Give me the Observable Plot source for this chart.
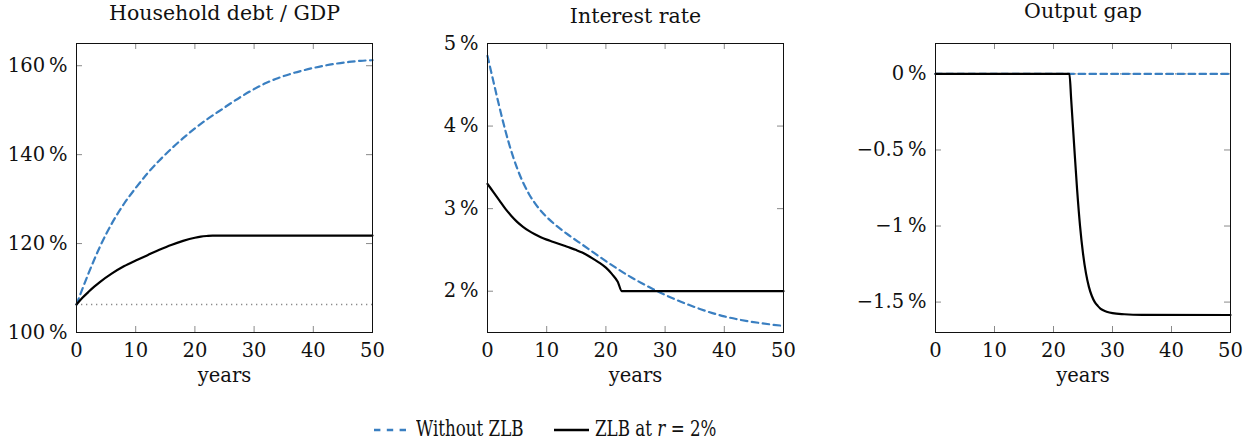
<!DOCTYPE html>
<html><head><meta charset="utf-8">
<script src="https://cdn.jsdelivr.net/npm/d3@7"></script>
<script src="https://cdn.jsdelivr.net/npm/@observablehq/plot@0.6"></script>
<style>
body{margin:0;background:#fff;}
#wrap{position:relative;width:1256px;height:444px;overflow:hidden;font-family:"DejaVu Serif",serif;color:#111;}
.panel{position:absolute;top:0;}
.lg{position:absolute;font-size:22px;line-height:22px;white-space:nowrap;transform-origin:0 50%;transform:scaleX(0.76);}
</style></head><body><div id="wrap"></div>
<script>
// ---- data ----
const xTicks = [0, 10, 20, 30, 40, 50];

const debtYearsNoZLB = [0,2,4,6,8,10,12,14,16,18,20,22,24,26,28,30,32,34,36,38,40,42,44,46,48,50];
const debtNoZLB = [106.3,113.2,119.4,124.6,128.9,132.5,135.8,138.7,141.3,143.7,145.9,147.9,149.7,151.5,153.2,154.75,156.1,157.2,158.1,158.85,159.5,160.05,160.5,160.85,161.1,161.25];
const debtYearsZLB = [0,1,2,3,4,6,8,10,12,14,16,18,20,21,22,23,24,26,30,40,50];
const debtZLB = [106.3,107.8,109.1,110.3,111.4,113.3,114.9,116.2,117.4,118.6,119.7,120.6,121.3,121.55,121.7,121.8,121.8,121.8,121.8,121.8,121.8];
const debtInitial = 106.3;
const debtTicks = [100, 120, 140, 160];

const rateYearsNoZLB = [0,1,2,3,4,5,6,7,8,9,10,12,14,16,18,20,22,24,26,28,30,32,34,36,38,40,42,44,46,48,50];
const rateNoZLB = [4.85,4.54,4.235,3.95,3.70,3.49,3.318,3.178,3.066,2.975,2.899,2.772,2.665,2.565,2.465,2.365,2.27,2.18,2.10,2.025,1.955,1.892,1.835,1.782,1.735,1.695,1.663,1.637,1.615,1.596,1.58];
const rateYearsZLB = [0,1,2,3,4,5,6,7,8,9,10,11,12,13,14,15,16,17,18,19,20,21,22,22.7,30,40,50];
const rateZLB = [3.30,3.20,3.10,3.00,2.915,2.84,2.78,2.73,2.69,2.655,2.625,2.60,2.575,2.55,2.525,2.498,2.468,2.43,2.385,2.34,2.285,2.21,2.115,2.0,2.0,2.0,2.0];
const rateTicks = [2, 3, 4, 5];

const gapYearsNoZLB = [0, 50];
const gapNoZLB = [0, 0];
const gapYearsZLB = [0,10,20,22.7,23.0,23.5,24.0,24.5,25.0,25.5,26.0,26.5,27.0,27.5,28,29,30,32,35,50];
const gapZLB = [0,0,0,0,-0.17,-0.47,-0.76,-1.0,-1.18,-1.31,-1.40,-1.46,-1.50,-1.525,-1.545,-1.563,-1.573,-1.58,-1.584,-1.585];
const gapInitial = 0;
const gapTicks = [-1.5, -1, -0.5, 0];

const titles = ["Household debt / GDP", "Interest rate", "Output gap"];
const xLabel = "years";
const seriesNames = ["Without ZLB", "ZLB at"];

// ---- drawing ----
const BLUE = "#3a7fc1";
const zip = (xs, ys) => xs.map((x, i) => ({year: x, value: ys[i]}));
const fmt = d => (d < 0 ? "\u2212" : "") + Math.abs(d) + "\u2009%";

function panel({left, width, ml, mr, yDomain, yTicks, title, titleDy, ref, blue, black}) {
  const H = 400, mt = 43, mb = 68;
  const innerH = H - mt - mb, innerW = width - ml - mr, T = 6;
  const tickStyle = {stroke: "#8a8a8a", strokeWidth: 1};
  const marks = [
    Plot.tickX(xTicks, {x: d => d, insetTop: innerH - T, ...tickStyle}),
    Plot.tickX(xTicks, {x: d => d, insetBottom: innerH - T, ...tickStyle}),
    Plot.tickY(yTicks, {y: d => d, insetRight: innerW - T, ...tickStyle}),
    Plot.tickY(yTicks, {y: d => d, insetLeft: innerW - T, ...tickStyle}),
  ];
  if (ref != null) marks.push(Plot.ruleY([ref], {stroke: "#8a8a8a", strokeWidth: 1.3, strokeDasharray: "1.3,3.7"}));
  marks.push(
    Plot.line(blue, {x: "year", y: "value", stroke: BLUE, strokeWidth: 2.2, strokeDasharray: "6.5,4.5", curve: "monotone-x"}),
    Plot.line(black, {x: "year", y: "value", stroke: "#000", strokeWidth: 2.2, curve: "monotone-x"}),
    Plot.frame({stroke: "#111", strokeWidth: 1}),
    Plot.axisX({ticks: xTicks, tickSize: 0, tickPadding: 11, label: null}),
    Plot.axisY({ticks: yTicks, tickSize: 0, tickPadding: 9, tickFormat: fmt, label: null}),
    Plot.text([title], {frameAnchor: "top", dy: titleDy, lineAnchor: "bottom", fontSize: 20.5}),
    Plot.text([xLabel], {frameAnchor: "bottom", dy: 43, lineAnchor: "middle"})
  );
  const svg = Plot.plot({
    width, height: H,
    marginLeft: ml, marginRight: mr, marginTop: mt, marginBottom: mb,
    x: {domain: [0, 50]},
    y: {domain: yDomain},
    style: {fontFamily: "DejaVu Serif", fontSize: "19.5px", color: "#111", background: "transparent", overflow: "visible"},
    marks
  });
  svg.classList.add("panel");
  svg.style.left = left + "px";
  return svg;
}

const wrap = document.getElementById("wrap");
wrap.appendChild(panel({left: 0, width: 400, ml: 76, mr: 28, yDomain: [100, 165], yTicks: debtTicks,
  title: titles[0], titleDy: -23.5, ref: debtInitial,
  blue: zip(debtYearsNoZLB, debtNoZLB), black: zip(debtYearsZLB, debtZLB)}));
wrap.appendChild(panel({left: 410, width: 400, ml: 77, mr: 27, yDomain: [1.5, 5], yTicks: rateTicks,
  title: titles[1], titleDy: -20.3, ref: null,
  blue: zip(rateYearsNoZLB, rateNoZLB), black: zip(rateYearsZLB, rateZLB)}));
wrap.appendChild(panel({left: 836, width: 420, ml: 99, mr: 26, yDomain: [-1.7, 0.2], yTicks: gapTicks,
  title: titles[2], titleDy: -26, ref: gapInitial,
  blue: zip(gapYearsNoZLB, gapNoZLB), black: zip(gapYearsZLB, gapZLB)}));

// ---- legend ----
function swatch(left, top, color, dash) {
  const ns = "http://www.w3.org/2000/svg";
  const s = document.createElementNS(ns, "svg");
  s.setAttribute("width", 40); s.setAttribute("height", 10);
  s.style.position = "absolute"; s.style.left = left + "px"; s.style.top = top + "px";
  const l = document.createElementNS(ns, "line");
  l.setAttribute("x1", 2); l.setAttribute("x2", 37); l.setAttribute("y1", 5); l.setAttribute("y2", 5);
  l.setAttribute("stroke", color); l.setAttribute("stroke-width", 2.4);
  if (dash) l.setAttribute("stroke-dasharray", dash);
  s.appendChild(l);
  wrap.appendChild(s);
}
function label(left, top, html) {
  const d = document.createElement("div");
  d.className = "lg"; d.style.left = left + "px"; d.style.top = top + "px";
  d.innerHTML = html;
  wrap.appendChild(d);
}
swatch(372, 425, BLUE, "6.4,6.4");
label(416, 418, seriesNames[0]);
swatch(552, 425, "#000", null);
label(595, 418, seriesNames[1] + " <i>r</i> = 2%");
</script>
</body></html>
